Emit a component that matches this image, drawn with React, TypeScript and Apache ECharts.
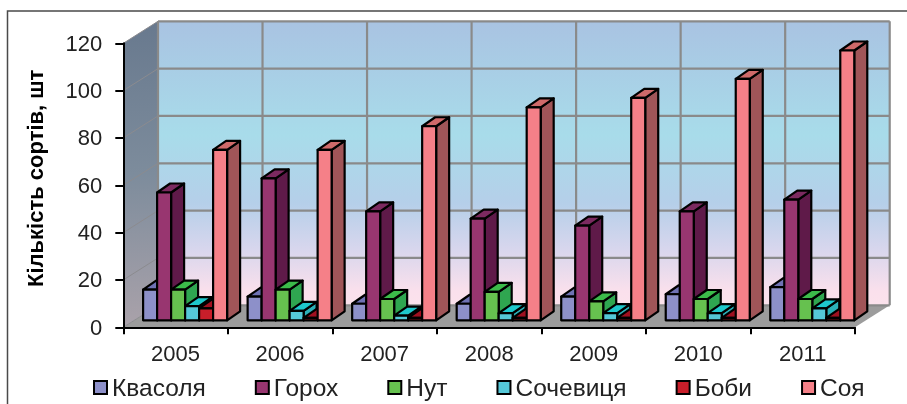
import React, { useEffect, useRef } from "react";
import * as echarts from "echarts";

const categories = ["2005", "2006", "2007", "2008", "2009", "2010", "2011"];
const beans = [13, 10, 7, 7, 10, 11, 14];
const peas = [54, 60, 46, 43, 40, 46, 51];
const chickpeas = [13, 13, 9, 12, 8, 9, 9];
const lentils = [6, 4, 2, 3, 3, 3, 5];
const broadBeans = [5, 1, 1, 1, 1, 1, 1];
const soy = [72, 72, 82, 90, 94, 102, 114];
const yTicks = [0, 20, 40, 60, 80, 100, 120];

const palette = [
  { name: "Квасоля", values: beans, front: "#8d90c9", side: "#6d70ad", top: "#6f72b4" },
  { name: "Горох", values: peas, front: "#983670", side: "#5f1a49", top: "#7c2a60" },
  { name: "Нут", values: chickpeas, front: "#66c14f", side: "#2fa650", top: "#3cbb4a" },
  { name: "Сочевиця", values: lentils, front: "#55c8d8", side: "#2bb0b8", top: "#1ec8cc" },
  { name: "Боби", values: broadBeans, front: "#c81e2a", side: "#8a1020", top: "#a01020" },
  { name: "Соя", values: soy, front: "#f58088", side: "#a05558", top: "#cf6a6a" },
];

const WALL_DX = 34.7;
const WALL_DY = -22;
const BAR_DY = -7;
const BAR_W = 14;
const BAR_START = 19.8;
const DEPTH_DX = 13;
const DEPTH_DY = -9;
const FONT = '"Liberation Sans", Arial, sans-serif';

function renderWalls(_params: any, api: any) {
  const [x0, y0] = api.coord([0, 0]);
  const band = api.size([1, 0])[0];
  const left = x0 - band / 2;
  const right = left + band * categories.length;
  const yTop = api.coord([0, 120])[1];
  const children: any[] = [];
  const gridStyle = { stroke: "#8a8a8a", lineWidth: 2.2, fill: "none" };
  children.push({
    type: "rect",
    shape: { x: left + WALL_DX, y: yTop + WALL_DY, width: right - left, height: y0 - yTop },
    style: {
      fill: new echarts.graphic.LinearGradient(0, 0, 0, 1, [
        { offset: 0, color: "#a9c3e2" },
        { offset: 0.4, color: "#a8dcea" },
        { offset: 0.64, color: "#b5cfe9" },
        { offset: 0.8, color: "#d7d6ed" },
        { offset: 0.95, color: "#fae0ec" },
        { offset: 1, color: "#fbe2ec" },
      ]),
    },
  });
  children.push({
    type: "polygon",
    shape: { points: [[left, yTop], [left + WALL_DX, yTop + WALL_DY], [left + WALL_DX, y0 + WALL_DY], [left, y0]] },
    style: {
      fill: new echarts.graphic.LinearGradient(0, 0, 0, 1, [
        { offset: 0, color: "#68798e" },
        { offset: 0.5, color: "#7d8c9c" },
        { offset: 1, color: "#aaa2aa" },
      ]),
    },
  });
  children.push({
    type: "polygon",
    shape: { points: [[left, y0], [right, y0], [right + WALL_DX, y0 + WALL_DY], [left + WALL_DX, y0 + WALL_DY]] },
    style: { fill: "#9c9c9c" },
  });
  yTicks.forEach((t) => {
    const y = api.coord([0, t])[1];
    children.push({
      type: "line",
      shape: { x1: left + WALL_DX, y1: y + WALL_DY, x2: right + WALL_DX, y2: y + WALL_DY },
      style: gridStyle,
    });
    children.push({
      type: "line",
      shape: { x1: left, y1: y, x2: left + WALL_DX, y2: y + WALL_DY },
      style: { stroke: "#8b8b8f", lineWidth: 1, fill: "none" },
    });
  });
  categories.forEach((_c, i) => {
    const x = left + WALL_DX + band * i;
    children.push({
      type: "line",
      shape: { x1: x, y1: yTop + WALL_DY, x2: x, y2: y0 + WALL_DY },
      style: gridStyle,
    });
  });
  children.push({
    type: "line",
    shape: { x1: right + WALL_DX, y1: yTop + WALL_DY, x2: right + WALL_DX, y2: y0 + WALL_DY },
    style: gridStyle,
  });
  return { type: "group", children };
}

function makeBarRenderer(seriesIndex: number) {
  const c = palette[seriesIndex];
  return (_params: any, api: any) => {
    const cat = api.value(0);
    const base = api.coord([cat, 0]);
    const top = api.coord([cat, api.value(1)]);
    const band = api.size([1, 0])[0];
    const x0 = base[0] - band / 2 + BAR_START + seriesIndex * BAR_W;
    const x1 = x0 + BAR_W;
    const yb = base[1] + BAR_DY;
    const yt = top[1] + BAR_DY;
    const edge = { stroke: "#000", lineWidth: 2.2, lineJoin: "round" };
    return {
      type: "group",
      children: [
        {
          type: "polygon",
          shape: { points: [[x1, yb], [x1 + DEPTH_DX, yb + DEPTH_DY], [x1 + DEPTH_DX, yt + DEPTH_DY], [x1, yt]] },
          style: { fill: c.side, ...edge },
        },
        {
          type: "polygon",
          shape: { points: [[x0, yt], [x1, yt], [x1 + DEPTH_DX, yt + DEPTH_DY], [x0 + DEPTH_DX, yt + DEPTH_DY]] },
          style: { fill: c.top, ...edge },
        },
        {
          type: "polygon",
          shape: { points: [[x0, yb], [x1, yb], [x1, yt], [x0, yt]] },
          style: { fill: c.front, ...edge },
        },
      ],
    };
  };
}

export default function App() {
  const ref = useRef<HTMLDivElement>(null);
  useEffect(() => {
    const chart = echarts.init(ref.current!, undefined, { renderer: "svg" });
    chart.setOption({
      animation: false,
      backgroundColor: "#fff",
      textStyle: { fontFamily: FONT },
      grid: { left: 123.3, width: 731.7, top: 43.3, height: 284 },
      graphic: [
        {
          type: "rect",
          shape: { x: 7.5, y: 11, width: 1000, height: 500 },
          style: { fill: "none", stroke: "#4a4a4a", lineWidth: 1.5 },
          silent: true,
        },
      ],
      xAxis: {
        type: "category",
        data: categories,
        z: 5,
        axisLine: { onZero: false, lineStyle: { color: "#000", width: 2 } },
        axisTick: { show: true, length: 7, lineStyle: { color: "#000", width: 2 } },
        axisLabel: { fontSize: 22, color: "#222", margin: 15, fontFamily: FONT },
        splitLine: { show: false },
      },
      yAxis: {
        type: "value",
        min: 0,
        max: 120,
        interval: 20,
        z: 5,
        name: "Кількість сортів, шт",
        nameLocation: "middle",
        nameGap: 77,
        nameTextStyle: { fontSize: 22, fontWeight: "bold", color: "#000", fontFamily: FONT, padding: [0, 0, 0, 14] },
        axisLine: { show: true, lineStyle: { color: "#000", width: 2 } },
        axisTick: { show: true, length: 8, lineStyle: { color: "#000", width: 2 } },
        axisLabel: { fontSize: 22, color: "#222", margin: 21, fontFamily: FONT },
        splitLine: { show: false },
      },
      legend: {
        left: 88,
        top: 370,
        icon: "rect",
        itemWidth: 13,
        itemHeight: 13,
        itemGap: 49,
        data: palette.map((p) => p.name),
        itemStyle: { borderColor: "#000", borderWidth: 2 },
        textStyle: { fontSize: 24.5, color: "#222", fontFamily: FONT },
      },
      series: [
        {
          type: "custom",
          name: "walls",
          z: 1,
          silent: true,
          clip: false,
          data: [[0, 0]],
          encode: { x: 0, y: 1 },
          renderItem: renderWalls,
        },
        ...palette.map((p, i) => ({
          type: "custom",
          name: p.name,
          z: 2,
          clip: false,
          itemStyle: { color: p.front },
          data: p.values.map((v, k) => [k, v]),
          encode: { x: 0, y: 1 },
          renderItem: makeBarRenderer(i),
        })),
      ],
    });
    return () => chart.dispose();
  }, []);
  return (
    <div
      ref={ref}
      style={{ position: "fixed", left: 0, top: 0, width: 907, height: 404, filter: "blur(0.4px)" }}
    />
  );
}
